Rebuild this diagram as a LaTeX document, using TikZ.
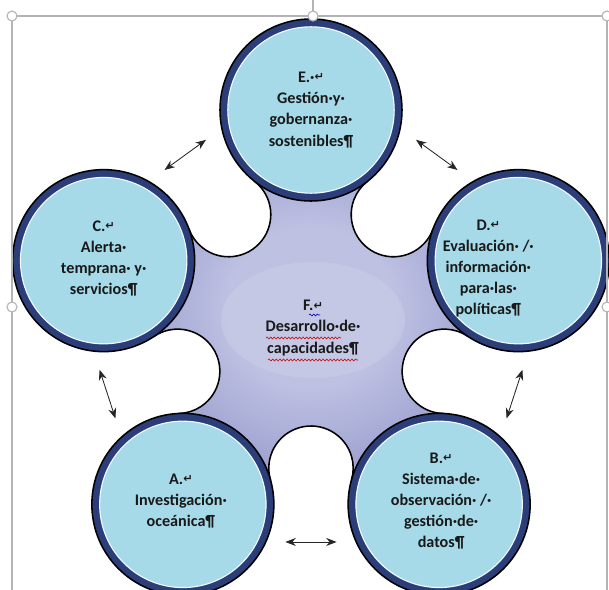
\documentclass[tikz,border=0pt]{standalone}
\usepackage{fontspec}
\setmainfont{Carlito}
\newfontfamily\symfont{DejaVu Sans}
\usetikzlibrary{calc,arrows.meta,decorations.pathmorphing}

\definecolor{petalblue}{HTML}{A6DAE8}
\definecolor{ringblue}{HTML}{2C3E7A}
\definecolor{blobin}{HTML}{BEC1E2}
\definecolor{blobmid}{HTML}{9699CB}
\definecolor{blobout}{HTML}{5F62A3}
\definecolor{framegray}{HTML}{B4B4B4}

\pgfdeclareradialshading{blobshade}{\pgfpoint{0bp}{0bp}}{color(0bp)=(blobin); color(10bp)=(blobin); color(24bp)=(blobmid); color(35bp)=(blobout); color(50bp)=(blobout)}

\newcommand{\retmark}{{\symfont\fontsize{8}{8}\selectfont\raisebox{0.3ex}{↵}}}

\tikzset{
  petal/.style={circle, minimum size=45.5mm, inner sep=0pt, draw=black, line width=1.1pt, fill=ringblue,
    path picture={\fill[petalblue, draw=white!85!petalblue, line width=0.8pt] (path picture bounding box.center) circle[radius=20.8mm];}},
  petaltext/.style={align=center, font=\bfseries\fontsize{11.5}{15}\selectfont, text=black!90},
  arr/.style={{Stealth[length=2.6mm,width=2mm]}-{Stealth[length=2.6mm,width=2mm]}, line width=0.6pt, draw=black!85},
  squiggle/.style={decorate, decoration={snake, segment length=0.9mm, amplitude=0.25mm}, line width=0.4pt},
  selhandle/.style={circle, draw=framegray, fill=white, line width=0.8pt, minimum size=2.5mm, inner sep=0pt}
}

\begin{document}
\begin{tikzpicture}[x=0.25mm, y=-0.25mm]
\useasboundingbox (0,0) rectangle (609,590);
\coordinate (O) at (311,328);
% centres of the five circles
\coordinate (pE) at ($(O)+(270:218)$);
\coordinate (pD) at ($(O)+(342:218)$);
\coordinate (pB) at ($(O)+(54:218)$);
\coordinate (pA) at ($(O)+(126:218)$);
\coordinate (pC) at ($(O)+(198:218)$);

% central body with the round notches
\shadedraw[shading=blobshade, draw=black, line width=1.1pt]
  ($(O)+(306:140.2)+(380.24:42.2)$) arc[start angle=380.24, end angle=591.76, radius=42.2] -- (pE)
  -- ($(O)+(234:140.2)+(308.24:42.2)$) arc[start angle=308.24, end angle=519.76, radius=42.2] -- (pC)
  -- ($(O)+(162:140.2)+(236.24:42.2)$) arc[start angle=236.24, end angle=447.76, radius=42.2] -- (pA)
  -- ($(O)+(90:140.2)+(164.24:42.2)$) arc[start angle=164.24, end angle=375.76, radius=42.2] -- (pB)
  -- ($(O)+(18:140.2)+(92.24:42.2)$) arc[start angle=92.24, end angle=303.76, radius=42.2] -- (pD)
  -- cycle;
\fill[white, opacity=0.12] ($(O)+(2,-8)$) ellipse[x radius=92, y radius=58];

\foreach \p in {E,D,B,A,C}
  \node[petal] (\p) at (p\p) {};

\node[petaltext] (tE) at (E) {E.·\retmark\\Gestión·y·\\gobernanza·\\sostenibles¶};
\node[petaltext] (tC) at ($(C)+(0,-2)$) {C.\retmark\\Alerta·\\temprana· y·\\servicios¶};
\node[petaltext] (tD) at ($(D)+(-30,8)$) {D.\retmark\\Evaluación· /·\\información·\\para·las·\\políticas¶};
\node[petaltext] (tA) at ($(A)+(-2,-3)$) {A.\retmark\\Investigación·\\oceánica¶};
\node[petaltext] (tB) at ($(B)+(2,-3)$) {B.\retmark\\Sistema·de·\\observación· /·\\gestión·de·\\datos¶};
\node[petaltext] (tF) at ($(O)+(2,0)$) {F.\retmark\\Desarrollo·de·\\capacidades¶};

% spelling marks
\draw[squiggle, blue!70!black] ($(tF)+(-4,-13)$) -- ($(tF)+(7,-13)$);
\draw[squiggle, red!80!black] ($(tF)+(-47,10)$) -- ($(tF)+(28,10)$);
\draw[squiggle, red!80!black] ($(tF)+(-45,32)$) -- ($(tF)+(45,32)$);

% links between neighbours
\draw[arr] ($(pC)!0.4!(pE)+(234:37.6)$) -- ($(pC)!0.6!(pE)+(234:37.6)$);
\draw[arr] ($(pE)!0.4!(pD)+(306:37.6)$) -- ($(pE)!0.6!(pD)+(306:37.6)$);
\draw[arr] ($(pD)!0.4!(pB)+(18:37.6)$) -- ($(pD)!0.6!(pB)+(18:37.6)$);
\draw[arr] ($(pB)!0.4!(pA)+(90:37.6)$) -- ($(pB)!0.6!(pA)+(90:37.6)$);
\draw[arr] ($(pA)!0.4!(pC)+(162:37.6)$) -- ($(pA)!0.6!(pC)+(162:37.6)$);

% selection frame
\draw[framegray, line width=0.9pt] (12,600) -- (12,16) -- (607,16) -- (607,600);
\draw[framegray, line width=0.9pt] (313,0) -- (313,16);
\foreach \i/\pos in {1/{(12,16)}, 2/{(313,16)}, 3/{(607,16)}, 4/{(12,307)}, 5/{(607,307)}, 6/{(313,596)}}
  \node[selhandle] (h\i) at \pos {};
\end{tikzpicture}
\end{document}
